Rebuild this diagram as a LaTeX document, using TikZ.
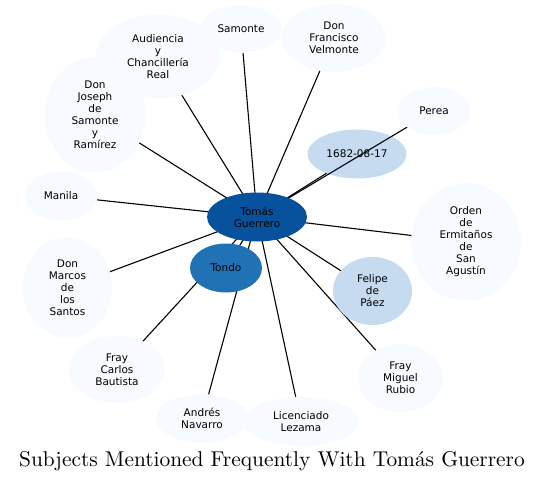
\documentclass[tikz,border=0pt]{standalone}
\usepackage{fontspec}
\setsansfont{DejaVu Sans}
\newfontfamily\titlefont[Extension=.otf]{lmroman10-regular}
\usetikzlibrary{shapes.geometric}
\pgfdeclarelayer{background}
\pgfdeclarelayer{midnode}
\pgfdeclarelayer{topedge}
\pgfsetlayers{background,midnode,topedge,main}
\definecolor{pale}{HTML}{F7FBFF}
\definecolor{light}{HTML}{C6DBEF}
\definecolor{mid}{HTML}{2171B5}
\definecolor{dark}{HTML}{08519C}
\tikzset{
  ent/.style={ellipse, inner sep=0pt, outer sep=0pt, align=center, text=black,
    font=\sffamily\fontsize{10.5}{12}\selectfont},
  rad/.style 2 args={minimum width=#1*2pt, minimum height=#2*2pt},
  link/.style={draw=black, line width=1.1pt},
}
\begin{document}
\begin{tikzpicture}[x=1pt,y=-1pt]
\useasboundingbox (0,0) rectangle (545,482);
% nodes
\node[ent, fill=dark, rad={50}{24.5}] (tg) at (257,217) {Tomás\\Guerrero};
\node[ent, fill=mid, rad={36}{24.5}] (tondo) at (226,268) {Tondo};
\node[ent, fill=light, rad={39.5}{34}] (felipe) at (372.5,291) {Felipe\\de\\Páez};
\node[ent, fill=pale, rad={36.5}{24}] (perea) at (434,111) {Perea};
\node[ent, fill=pale, rad={41}{24}] (samonte) at (241,29) {Samonte};
\node[ent, fill=pale, rad={62}{42}] (aud) at (158,56.5) {Audiencia\\y\\Chancillería\\Real};
\node[ent, fill=pale, rad={52}{34}] (franc) at (334,38) {Don\\Francisco\\Velmonte};
\node[ent, fill=pale, rad={50.5}{58}] (joseph) at (95,115) {Don\\Joseph\\de\\Samonte\\y\\Ramírez};
\node[ent, fill=pale, rad={36.5}{24.5}] (manila) at (61,196) {Manila};
\node[ent, fill=pale, rad={44.5}{50.5}] (marcos) at (67.5,287.5) {Don\\Marcos\\de\\los\\Santos};
\node[ent, fill=pale, rad={48}{33.5}] (carlos) at (117,369.5) {Fray\\Carlos\\Bautista};
\node[ent, fill=pale, rad={46}{24.5}] (andres) at (202,418.5) {Andrés\\Navarro};
\node[ent, fill=pale, rad={58}{24.5}] (lezama) at (301,421.5) {Licenciado\\Lezama};
\node[ent, fill=pale, rad={42.5}{34}] (miguel) at (400.5,378) {Fray\\Miguel\\Rubio};
\node[ent, fill=pale, rad={55}{59}] (orden) at (466,242) {Orden\\de\\Ermitaños\\de\\San\\Agustín};
\begin{pgfonlayer}{midnode}
\node[ent, fill=light, rad={49.5}{24.5}] (date) at (357,154) {1682-08-17};
\end{pgfonlayer}
% edges
\begin{pgfonlayer}{background}
\foreach \n in {tondo,felipe,samonte,aud,franc,joseph,manila,marcos,carlos,andres,lezama,miguel,orden,date}
  \draw[link] (tg.center) -- (\n.center);
\end{pgfonlayer}
\begin{pgfonlayer}{topedge}
\draw[link] (tg.center) -- (perea.center);
\end{pgfonlayer}
% title
\node[anchor=base, font=\titlefont\fontsize{21.4}{25}\selectfont, inner sep=0pt] (title) at (272,466) {Subjects Mentioned Frequently With Tomás Guerrero};
\end{tikzpicture}
\end{document}
